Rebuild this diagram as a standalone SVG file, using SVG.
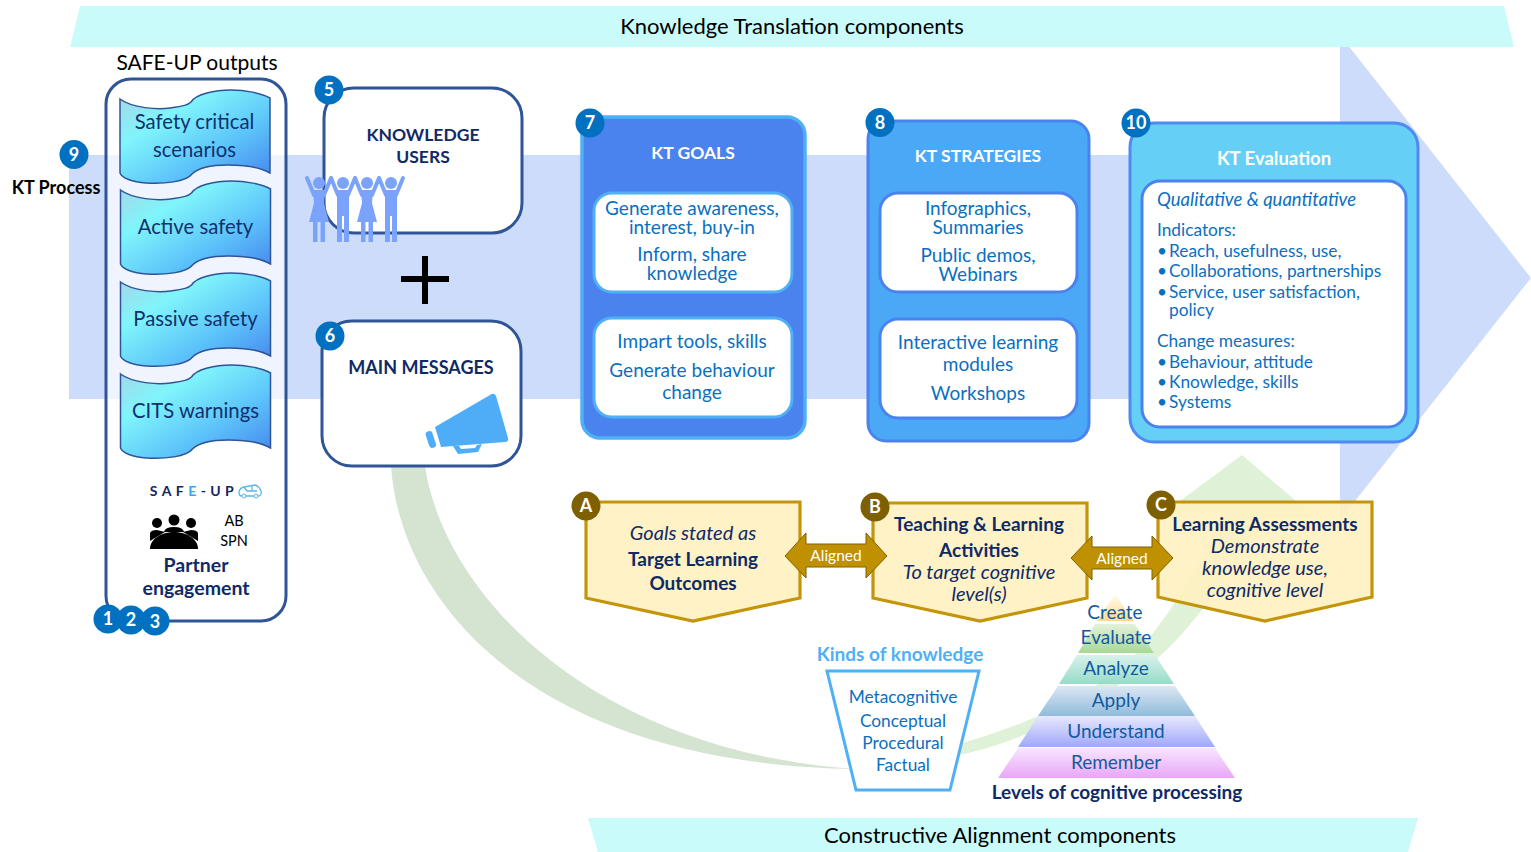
<svg xmlns="http://www.w3.org/2000/svg" xmlns:xlink="http://www.w3.org/1999/xlink" width="1531" height="852" viewBox="0 0 1531 852">
<style>
text{font-family:"Lato","Liberation Sans",sans-serif;text-anchor:middle}
.big{font-size:22px;fill:#000}
.tape{font-size:20.300px;fill:#12306e}
.navy{font-size:18px;font-weight:700;fill:#0f2a66}
.h{font-size:17.500px;font-weight:700;fill:#fff}
.kt{font-size:19px;fill:#0b6fc0}
.l{font-size:17.300px;fill:#0b6fc0;text-anchor:start}
.it{font-style:italic}
.ca{font-size:19px;fill:#0f2a66}
.ca.it{font-size:20px}
.b{font-weight:700}
.n{font-size:18px;font-weight:700;fill:#fff}
.badge{fill:#0070c0}
.bb{fill:#7f6000}
.al{fill:#bf9000;stroke:#7f6000;stroke-width:1}
.alt{font-size:15.500px;fill:#fff}
.box{fill:#fff;stroke:#2f5597;stroke-width:3}
.gold{fill:#fff0be;fill-opacity:.88;stroke:#c4950b;stroke-width:3.2;stroke-linejoin:miter}
.py{font-size:19px;fill:#125b9e}
.tp{fill:url(#tapeG);stroke:#2f5597;stroke-width:1.5}
.pp{fill:#7ba3fb}
.ppa{stroke:#7ba3fb;stroke-width:4;fill:none;stroke-linecap:round}
</style>
<defs>
<linearGradient id="tapeG" x1="0" y1="0" x2="1" y2="1">
<stop offset="0" stop-color="#a9d3e6"/><stop offset=".3" stop-color="#7ff5fb"/><stop offset=".65" stop-color="#5cc3fa"/><stop offset="1" stop-color="#4482ee"/>
</linearGradient>
<linearGradient id="p1" x1="0" y1="0" x2="0" y2="1"><stop offset="0" stop-color="#fffdf2"/><stop offset="1" stop-color="#ffd98a"/></linearGradient>
<linearGradient id="p2" x1="0" y1="0" x2="0" y2="1"><stop offset="0" stop-color="#e3f2da"/><stop offset="1" stop-color="#a8d896"/></linearGradient>
<linearGradient id="p3" x1="0" y1="0" x2="0" y2="1"><stop offset="0" stop-color="#d9f1ec"/><stop offset="1" stop-color="#97dcc8"/></linearGradient>
<linearGradient id="p4" x1="0" y1="0" x2="0" y2="1"><stop offset="0" stop-color="#dde7f3"/><stop offset="1" stop-color="#8fbbdc"/></linearGradient>
<linearGradient id="p5" x1="0" y1="0" x2="0" y2="1"><stop offset="0" stop-color="#e8e8ff"/><stop offset="1" stop-color="#9fa8fa"/></linearGradient>
<linearGradient id="p6" x1="0" y1="0" x2="0" y2="1"><stop offset="0" stop-color="#f8e6ff"/><stop offset="1" stop-color="#e9a6f6"/></linearGradient>
<path id="tapeS" d="M0,0 C12,9 38,11 50,9 C64,7 68,6 71,3 C76,-5 95,-9 111,-9 C125,-9 141,-6 150,-1 L150,74 C140,68 122,66 108,66 C92,66 78,69 72,75 C66,83 44,85 26,84 C12,83 2,79 0,74 Z"/>
<g id="fem"><circle cx="0" cy="0" r="6"/><path d="M-6,7H6L5,20L10,39H-10L-5,20Z"/><rect x="-6" y="39" width="4.5" height="20"/><rect x="1.500" y="39" width="4.500" height="20"/></g>
<g id="mal"><circle cx="0" cy="0" r="6"/><rect x="-6" y="7" width="12" height="26"/><rect x="-6" y="30" width="5" height="29"/><rect x="1" y="30" width="5" height="29"/></g>
</defs>

<polygon id="kt-process-arrow" points="69,155 1340,155 1340,35 1531,278 1340,520 1340,399 69,399" fill="#cddcfa"/>

<g id="green-arrow">
<path d="M391,466 C400,600 530,764 856,769 C600,752 445,600 425,466 Z" fill="#d4e4d1"/>
<path d="M945,748 C1030,725 1110,690 1150,637 C1175,605 1205,560 1222,512 L1165,512 L1242,455 L1316,518 L1262,518 C1240,560 1200,620 1159,657 C1100,700 1030,742 950,757 Z" fill="#dff2d8"/>
</g>

<polygon id="banner-top" points="80,6 1504,6 1514,47 70,47" fill="#c9fbfb"/>
<text class="big" x="792" y="34">Knowledge Translation components</text>
<polygon id="banner-bottom" points="588,818 1418,818 1408,852 598,852" fill="#c9fbfb"/>
<text class="big" x="1000" y="843">Constructive Alignment components</text>

<text class="big" style="font-size:21px" x="197" y="70">SAFE-UP outputs</text>
<g id="kt-process"><circle class="badge" cx="74" cy="154.500" r="14.500"/><text class="n" x="74" y="161">9</text>
<text x="56" y="194" style="font-size:18px;font-weight:700;fill:#000">KT Process</text></g>

<g id="safe-up-outputs">
<rect x="106" y="79" width="180" height="542" rx="25" fill="#fff" fill-opacity=".68" stroke="#2f5597" stroke-width="3"/>
<use href="#tapeS" class="tp" x="120" y="99"/>
<text class="tape" x="194.500" y="129">Safety critical</text><text class="tape" x="194.500" y="157">scenarios</text>
<use href="#tapeS" class="tp" x="120.500" y="190"/>
<text class="tape" x="195.500" y="234">Active safety</text>
<use href="#tapeS" class="tp" x="120.500" y="282"/>
<text class="tape" x="195.500" y="326">Passive safety</text>
<use href="#tapeS" class="tp" x="120.500" y="374"/>
<text class="tape" x="195.500" y="418">CITS warnings</text>
<g id="logo"><text x="194" y="496" style="font-size:14px;font-weight:700;letter-spacing:4.400px;fill:#14255c">SAF<tspan fill="#34a8e8">E</tspan>-UP</text>
<path d="M239,493 Q239,488 244,487 L255,485 Q259,486 261,491 Q262,496 258,496 L242,496 Q239,496 239,493 Z M244,487 L247,491 L257,491 M252,485 L252,491" fill="none" stroke="#5cb8e8" stroke-width="1.300"/><circle cx="244" cy="496" r="2" fill="#fff" stroke="#5cb8e8"/><circle cx="256" cy="496" r="2" fill="#fff" stroke="#5cb8e8"/></g>
<g id="partner-icon" fill="#000"><circle cx="157" cy="523" r="5"/><circle cx="174" cy="520" r="5.500"/><circle cx="191" cy="523" r="5"/>
<path d="M150,549 C150,538 163,532 174,532 C185,532 198,538 198,549 Z"/><path d="M150,541 L150,533 Q151,530 157,530 L165,532 Z M198,541 L198,533 Q197,530 191,530 L183,532 Z M164,532 Q165,527 174,527 Q183,527 184,532 Z"/></g>
<text x="234" y="526" style="font-size:14.500px;fill:#000">AB</text><text x="234" y="546" style="font-size:14.500px;fill:#000">SPN</text>
<text class="navy" style="font-size:19.500px" x="196" y="572">Partner</text><text class="navy" style="font-size:19.500px" x="196" y="595">engagement</text>
<circle class="badge" cx="108" cy="619" r="14.500"/><text class="n" x="108" y="625">1</text>
<circle class="badge" cx="131" cy="620" r="14.500"/><text class="n" x="131" y="626">2</text>
<circle class="badge" cx="155" cy="621" r="14.500"/><text class="n" x="155" y="628">3</text>
</g>

<g id="knowledge-users">
<rect class="box" x="324" y="88" width="198" height="145" rx="30"/>
<text class="navy" style="font-size:17.500px" x="423" y="141">KNOWLEDGE</text><text class="navy" style="font-size:17.500px" x="423" y="163">USERS</text>
<g class="pp"><use href="#fem" x="319" y="183"/><use href="#mal" x="343" y="183"/><use href="#fem" x="367" y="183"/><use href="#mal" x="391" y="183"/></g>
<path class="ppa" d="M307,178 L314,195 M331,178 L324,195 M331,178 L338,195 M355,178 L348,195 M355,178 L362,195 M379,178 L372,195 M379,178 L386,195 M403,178 L396,195"/>
</g>

<g id="plus" fill="#000"><rect x="401" y="276" width="48" height="6"/><rect x="422" y="256" width="6" height="48"/></g>

<g id="main-messages">
<rect class="box" x="322" y="321" width="199" height="145" rx="30"/>
<text class="navy" x="421" y="374">MAIN MESSAGES</text>
<g fill="#4fadf7"><path d="M435,427 L490,395 Q494,392 496,396 L508,438 Q509,442 505,442 L441,447 Z"/>
<rect x="-3.500" y="-9" width="7" height="17" rx="3" transform="translate(431,440) rotate(-18)"/>
<path d="M453,446 L458,454 L478,452 L482,444 L477,445 L475,448 L461,449 L459,446 Z"/></g>
<circle class="badge" cx="330" cy="336" r="14.500"/><text class="n" x="330" y="342">6</text>
</g>
<g id="n5"><circle class="badge" cx="329" cy="90" r="14.500"/><text class="n" x="329" y="96">5</text></g>

<g id="kt-goals">
<rect x="582" y="117" width="223" height="321" rx="18" fill="#4a82ee" stroke="#4fb0f8" stroke-width="3.500"/>
<text class="h" x="693" y="159">KT GOALS</text>
<rect x="594" y="193" width="198" height="99" rx="18" fill="#fff" stroke="#4fb0f8" stroke-width="3"/>
<text class="kt" x="692" y="215">Generate awareness,</text><text class="kt" x="692" y="234">interest, buy-in</text>
<text class="kt" x="692" y="261">Inform, share</text><text class="kt" x="692" y="280">knowledge</text>
<rect x="594" y="318" width="198" height="99" rx="18" fill="#fff" stroke="#4fb0f8" stroke-width="3"/>
<text class="kt" x="692" y="348">Impart tools, skills</text><text class="kt" x="692" y="377">Generate behaviour</text><text class="kt" x="692" y="399">change</text>
<circle class="badge" cx="590" cy="123" r="14.500"/><text class="n" x="590" y="129">7</text>
</g>

<g id="kt-strategies">
<rect x="868" y="121" width="221" height="320" rx="18" fill="#4aa8f7" stroke="#4a82ee" stroke-width="3"/>
<text class="h" x="978" y="162">KT STRATEGIES</text>
<rect x="880" y="193" width="197" height="99" rx="18" fill="#fff" stroke="#4a82ee" stroke-width="3"/>
<text class="kt" x="978" y="215">Infographics,</text><text class="kt" x="978" y="234">Summaries</text>
<text class="kt" x="978" y="262">Public demos,</text><text class="kt" x="978" y="281">Webinars</text>
<rect x="880" y="319" width="197" height="99" rx="18" fill="#fff" stroke="#4a82ee" stroke-width="3"/>
<text class="kt" x="978" y="349">Interactive learning</text><text class="kt" x="978" y="371">modules</text><text class="kt" x="978" y="400">Workshops</text>
<circle class="badge" cx="880" cy="122.500" r="14.500"/><text class="n" x="880" y="129">8</text>
</g>

<g id="kt-evaluation">
<rect x="1130" y="123" width="288" height="319" rx="24" fill="#66cff6" stroke="#4f8af0" stroke-width="3"/>
<text class="h" style="font-size:18.500px" x="1274" y="165">KT Evaluation</text>
<rect x="1142" y="181" width="264" height="246" rx="18" fill="#fff" stroke="#4a82ee" stroke-width="3"/>
<text class="l it" style="font-size:18.500px" x="1157" y="206">Qualitative &amp; quantitative</text>
<text class="l" x="1157" y="236">Indicators:</text>
<text class="l" x="1157" y="257">•</text><text class="l" x="1169" y="257">Reach, usefulness, use,</text>
<text class="l" x="1157" y="277">•</text><text class="l" x="1169" y="277">Collaborations, partnerships</text>
<text class="l" x="1157" y="298">•</text><text class="l" x="1169" y="298">Service, user satisfaction,</text>
<text class="l" x="1169" y="316">policy</text>
<text class="l" x="1157" y="347">Change measures:</text>
<text class="l" x="1157" y="368">•</text><text class="l" x="1169" y="368">Behaviour, attitude</text>
<text class="l" x="1157" y="388">•</text><text class="l" x="1169" y="388">Knowledge, skills</text>
<text class="l" x="1157" y="408">•</text><text class="l" x="1169" y="408">Systems</text>
<circle class="badge" cx="1136" cy="123" r="14.500"/><text class="n" x="1136" y="129">10</text>
</g>

<g id="box-a">
<polygon class="gold" points="586,502 800,502 800,598 693,621 586,598"/>
<text class="ca it" x="693" y="540">Goals stated as</text><text class="ca b" x="693" y="566">Target Learning</text><text class="ca b" x="693" y="590">Outcomes</text>
<circle class="bb" cx="586" cy="506" r="14.500"/><text class="n" x="586" y="512">A</text>
</g>
<g id="box-b">
<polygon class="gold" points="873,503 1087,503 1087,598 980,621 873,598"/>
<text class="ca b" x="979" y="531">Teaching &amp; Learning</text><text class="ca b" x="979" y="557">Activities</text>
<text class="ca it" x="979" y="579">To target cognitive</text><text class="ca it" x="979" y="601">level(s)</text>
<circle class="bb" cx="875" cy="507" r="14.500"/><text class="n" x="875" y="513">B</text>
</g>
<g id="box-c">
<polygon class="gold" points="1158,502 1372,502 1372,597 1265,621 1158,597"/>
<text class="ca b" x="1265" y="531">Learning Assessments</text><text class="ca it" x="1265" y="553">Demonstrate</text><text class="ca it" x="1265" y="575">knowledge use,</text><text class="ca it" x="1265" y="597">cognitive level</text>
<circle class="bb" cx="1161" cy="505" r="14.500"/><text class="n" x="1161" y="511">C</text>
</g>

<g id="connectors">
<g id="aligned-1"><polygon class="al" points="785,556 806,533 806,544 866,544 866,533 887,556 866,578 866,567 806,567 806,578"/><text class="alt" x="836" y="561">Aligned</text></g>
<g id="aligned-2"><polygon class="al" points="1071,558 1092,536 1092,547 1152,547 1152,536 1173,558 1152,580 1152,569 1092,569 1092,580"/><text class="alt" x="1122" y="564">Aligned</text></g>
</g>

<g id="kinds-of-knowledge">
<text x="900" y="661" style="font-size:19px;font-weight:700;fill:#4fb0f5">Kinds of knowledge</text>
<polygon points="827,671 979,671 950,790 856,790" fill="#fff" stroke="#4fb0f5" stroke-width="3"/>
<text class="l" style="text-anchor:middle" x="903" y="703">Metacognitive</text><text class="l" style="text-anchor:middle" x="903" y="727">Conceptual</text><text class="l" style="text-anchor:middle" x="903" y="749">Procedural</text><text class="l" style="text-anchor:middle" x="903" y="771">Factual</text>
</g>

<g id="pyramid">
<polygon points="1115,594 1097,621 1134,621" fill="url(#p1)"/>
<polygon points="1095,624 1135,624 1154,653 1078,653" fill="url(#p2)"/>
<polygon points="1077,655 1155,655 1174,684 1059,684" fill="url(#p3)"/>
<polygon points="1058,686 1175,686 1195,716 1038,716" fill="url(#p4)"/>
<polygon points="1038,716 1195,716 1215,747 1018,747" fill="url(#p5)"/>
<polygon points="1018,748 1215,748 1235,778 998,778" fill="url(#p6)"/>
<text class="py" x="1115" y="619">Create</text><text class="py" x="1116" y="644">Evaluate</text><text class="py" x="1116" y="675">Analyze</text><text class="py" x="1116" y="707">Apply</text><text class="py" x="1116" y="738">Understand</text><text class="py" x="1116" y="769">Remember</text>
<text class="ca b" x="1117" y="799">Levels of cognitive processing</text>
</g>
</svg>
